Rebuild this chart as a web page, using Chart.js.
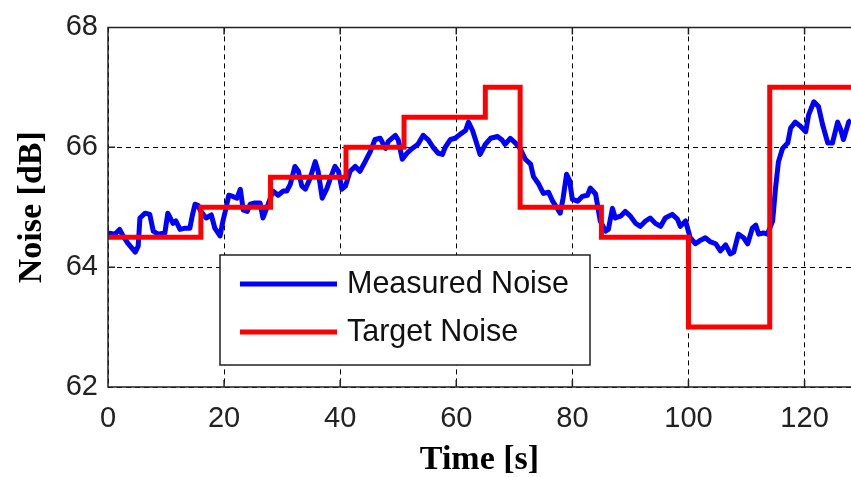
<!DOCTYPE html>
<html>
<head>
<meta charset="utf-8">
<script src="https://cdn.jsdelivr.net/npm/chart.js@4.4.0/dist/chart.umd.min.js"></script>
<style>
  html, body { margin: 0; padding: 0; background: #fff; }
  #wrap { width: 851px; height: 477px; }
</style>
</head>
<body>
<div id="wrap"><canvas id="noiseChart"></canvas></div>
<script>
// measured sound level over time
const measuredTimes = [
    0, 1.2, 2.0, 2.6, 3.4, 4.7, 5.2, 5.5, 6.4, 7.2, 7.8, 8.6, 9.8, 10.3, 11.2, 11.7, 12.4, 13.3, 14.1, 14.5,
    15.0, 15.5, 16.0, 16.9, 17.8, 18.4, 19.3, 19.8, 20.3, 20.8, 21.5, 22.2, 22.8, 23.3, 24.0, 24.5, 25.3, 26.2, 26.7, 27.6,
    28.4, 29.3, 30.2, 30.8, 31.4, 32.2, 32.8, 33.4, 34.0, 34.8, 35.7, 36.2, 36.9, 37.7, 38.3, 39.1, 39.7, 40.3, 40.9, 41.7,
    42.6, 43.4, 44.3, 45.2, 46.0, 46.9, 47.8, 48.3, 49.5, 50.0, 50.7, 51.5, 52.4, 53.4, 54.3, 55.2, 56.0, 56.9, 57.6, 58.1,
    59.0, 59.8, 60.7, 61.6, 62.1, 62.8, 63.3, 64.1, 65.0, 65.9, 67.1, 67.9, 68.4, 69.3, 70.2, 71.0, 71.9, 72.8, 73.3, 74.1,
    75.0, 75.9, 76.6, 77.4, 77.9, 78.4, 79.0, 79.5, 80.0, 80.9, 81.7, 82.6, 83.1, 84.0, 84.8, 85.7, 86.2, 86.9, 87.4, 88.3,
    89.1, 90.0, 90.9, 91.7, 92.6, 93.4, 94.3, 95.2, 96.0, 97.2, 98.1, 98.6, 99.5, 100.3, 101.2, 102.1, 102.9, 103.8, 104.7, 105.5,
    106.4, 107.2, 107.8, 108.6, 109.5, 110.2, 111.0, 111.6, 112.1, 112.9, 113.6, 114.5, 115.0, 115.5, 116.2, 117.1, 117.6, 118.4, 119.3, 120.2,
    120.7, 121.6, 122.4, 123.1, 124.0, 124.8, 125.7, 126.2, 126.7, 127.6, 128.0
];
const measuredLevels = [
    64.57, 64.55, 64.63, 64.52, 64.40, 64.25, 64.35, 64.82, 64.90, 64.88, 64.60, 64.55, 64.57, 64.90, 64.73, 64.77, 64.63, 64.65, 64.65, 64.85,
    65.05, 65.03, 64.93, 64.82, 64.87, 64.65, 64.52, 64.77, 64.97, 65.20, 65.18, 65.15, 65.30, 64.95, 64.93, 65.05, 65.07, 65.07, 64.82, 65.05,
    65.27, 65.20, 65.27, 65.27, 65.38, 65.68, 65.60, 65.35, 65.30, 65.48, 65.76, 65.60, 65.15, 65.31, 65.48, 65.68, 65.60, 65.30, 65.35, 65.60,
    65.68, 65.60, 65.76, 65.93, 66.13, 66.15, 65.98, 66.10, 66.20, 66.12, 65.80, 65.90, 65.98, 66.05, 66.20, 66.12, 66.00, 65.90, 65.88, 66.00,
    66.13, 66.15, 66.22, 66.28, 66.42, 66.28, 66.13, 65.88, 66.05, 66.15, 66.18, 66.12, 66.05, 66.15, 66.07, 65.98, 65.80, 65.72, 65.51, 65.40,
    65.23, 65.25, 65.10, 64.98, 64.90, 65.15, 65.55, 65.45, 65.13, 65.10, 65.18, 65.20, 65.32, 65.22, 64.77, 64.60, 64.63, 64.98, 64.82, 64.85,
    64.93, 64.85, 64.73, 64.68, 64.77, 64.82, 64.73, 64.68, 64.82, 64.88, 64.80, 64.68, 64.77, 64.49, 64.39, 64.45, 64.49, 64.42, 64.39, 64.27,
    64.37, 64.22, 64.25, 64.55, 64.49, 64.39, 64.65, 64.70, 64.55, 64.57, 64.55, 64.77, 65.32, 65.76, 65.98, 66.07, 66.32, 66.42, 66.35, 66.26,
    66.54, 66.76, 66.68, 66.38, 66.07, 66.07, 66.42, 66.30, 66.13, 66.42, 66.45
];

// setpoint steps: each level holds from its time until the next one
const targetTimes = [0, 16, 28, 41, 51, 65, 71, 85, 100, 114, 128];
const targetLevels = [64.5, 65, 65.5, 66, 66.5, 67, 65, 64.5, 63, 67, 67];

const xTicks = [0, 20, 40, 60, 80, 100, 120];
const yTicks = [62, 64, 66, 68];

const seriesNames = ['Measured Noise', 'Target Noise'];

function toPoints(xs, ys) {
    return xs.map((x, i) => ({ x: x, y: ys[i] }));
}

// box, inward ticks and the boxed legend inside the plot
const frameAndLegend = {
    id: 'frameAndLegend',
    afterDraw(chart) {
        const ctx = chart.ctx;
        const a = chart.chartArea;
        const xs = chart.scales.x;
        const ys = chart.scales.y;

        ctx.save();
        ctx.setLineDash([]);
        ctx.strokeStyle = '#222';
        ctx.lineWidth = 1.5;
        ctx.beginPath();
        ctx.moveTo(a.right, a.top);
        ctx.lineTo(a.left, a.top);
        ctx.lineTo(a.left, a.bottom);
        ctx.lineTo(a.right, a.bottom);
        xTicks.forEach(v => {
            const px = xs.getPixelForValue(v);
            ctx.moveTo(px, a.bottom);
            ctx.lineTo(px, a.bottom - 7);
            ctx.moveTo(px, a.top);
            ctx.lineTo(px, a.top + 7);
        });
        yTicks.forEach(v => {
            const py = ys.getPixelForValue(v);
            ctx.moveTo(a.left, py);
            ctx.lineTo(a.left + 7, py);
        });
        ctx.stroke();

        // legend
        const boxX = 220, boxY = 255, boxW = 370, boxH = 110;
        ctx.fillStyle = '#fff';
        ctx.fillRect(boxX, boxY, boxW, boxH);
        ctx.strokeStyle = '#222';
        ctx.lineWidth = 1.5;
        ctx.strokeRect(boxX, boxY, boxW, boxH);

        ctx.font = '30.5px "Liberation Sans", Arial, sans-serif';
        ctx.textBaseline = 'middle';
        chart.data.datasets.forEach((ds, i) => {
            const ly = boxY + 29 + i * 48;
            ctx.strokeStyle = ds.borderColor;
            ctx.lineWidth = 5;
            ctx.beginPath();
            ctx.moveTo(boxX + 20, ly);
            ctx.lineTo(boxX + 117, ly);
            ctx.stroke();
            ctx.fillStyle = '#111';
            ctx.fillText(ds.label, boxX + 127, ly + 1);
        });
        ctx.restore();
    }
};

const ctx = document.getElementById('noiseChart').getContext('2d');
new Chart(ctx, {
    type: 'line',
    data: {
        datasets: [{
            label: seriesNames[0],
            data: toPoints(measuredTimes, measuredLevels),
            borderColor: '#0000ff',
            borderWidth: 5,
            borderJoinStyle: 'round',
            pointRadius: 0,
            tension: 0,
            order: 1
        }, {
            label: seriesNames[1],
            data: toPoints(targetTimes, targetLevels),
            borderColor: '#ff0000',
            borderWidth: 5,
            pointRadius: 0,
            stepped: 'before',
            order: 0
        }]
    },
    options: {
        responsive: true,
        maintainAspectRatio: false,
        animation: false,
        events: [],
        layout: {
            padding: { top: 25, right: 0, left: 0, bottom: 0 }
        },
        plugins: {
            legend: { display: false },
            tooltip: { enabled: false }
        },
        scales: {
            x: {
                type: 'linear',
                min: 0,
                max: 128,
                afterBuildTicks: scale => {
                    scale.ticks = xTicks.map(v => ({ value: v }));
                },
                afterFit: scale => {
                    scale.height = 90;
                },
                ticks: {
                    autoSkip: false,
                    maxRotation: 0,
                    padding: 15,
                    color: '#222',
                    font: { family: '"Liberation Sans", Arial, sans-serif', size: 29 }
                },
                grid: {
                    color: '#000',
                    lineWidth: 1,
                    drawTicks: false
                },
                border: { display: false, dash: [5, 4] },
                title: {
                    display: true,
                    text: 'Time [s]',
                    color: '#000',
                    padding: { top: 16, bottom: 0 },
                    font: { family: '"Liberation Serif", "Times New Roman", serif', size: 34, weight: 'bold', lineHeight: 1.0 }
                }
            },
            y: {
                min: 62,
                max: 68,
                afterBuildTicks: scale => {
                    scale.ticks = yTicks.map(v => ({ value: v }));
                },
                afterFit: scale => {
                    scale.width = 108;
                },
                ticks: {
                    padding: 10,
                    color: '#222',
                    font: { family: '"Liberation Sans", Arial, sans-serif', size: 29 }
                },
                grid: {
                    color: '#000',
                    lineWidth: 1,
                    drawTicks: false
                },
                border: { display: false, dash: [5, 4] },
                title: {
                    display: true,
                    text: 'Noise [dB]',
                    color: '#000',
                    padding: { top: 12, bottom: 0 },
                    font: { family: '"Liberation Serif", "Times New Roman", serif', size: 34, weight: 'bold' }
                }
            }
        }
    },
    plugins: [frameAndLegend]
});
</script>
</body>
</html>
